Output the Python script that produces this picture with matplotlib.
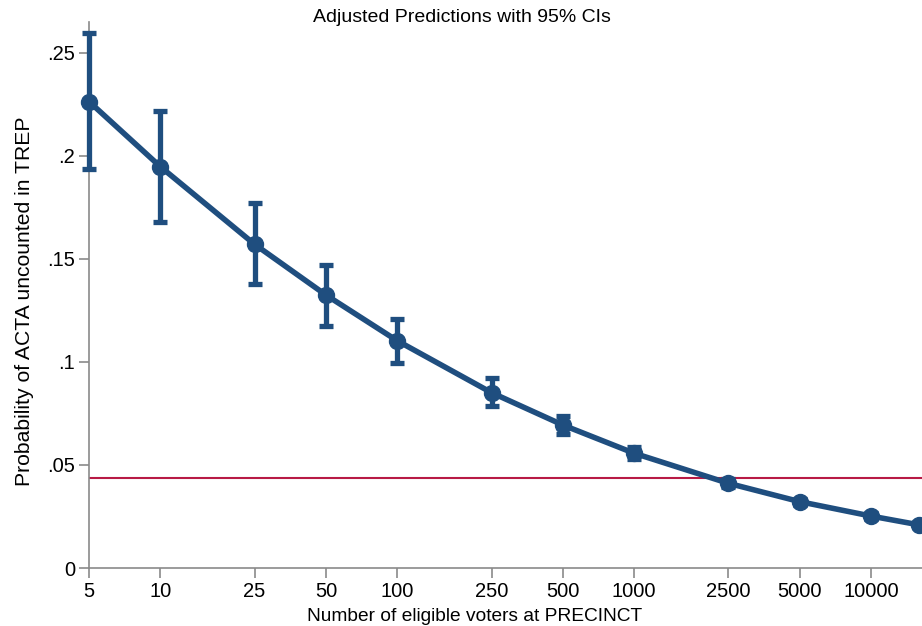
import matplotlib

matplotlib.use("Agg")

import matplotlib.pyplot as plt
from matplotlib.ticker import FixedLocator, FixedFormatter, NullLocator

# Margins of predicted probability by precinct size
voters = [5, 10, 25, 50, 100, 250, 500, 1000, 2500, 5000, 10000, 16000]
prob = [0.2264, 0.1948, 0.1571, 0.1325, 0.1103, 0.0851, 0.0694, 0.0557,
        0.0411, 0.0322, 0.0252, 0.0209]
ci_low = [0.1937, 0.1681, 0.1377, 0.1175, 0.0994, 0.0786, 0.0649, 0.0527,
          0.0391, 0.0307, 0.0239, 0.0197]
ci_high = [0.2596, 0.2218, 0.1770, 0.1471, 0.1209, 0.0921, 0.0739, 0.0587,
           0.0431, 0.0337, 0.0265, 0.0221]
baseline = 0.0438

x_ticks = [5, 10, 25, 50, 100, 250, 500, 1000, 2500, 5000, 10000]
y_ticks = [0, 0.05, 0.1, 0.15, 0.2, 0.25]
y_labels = ["0", ".05", ".1", ".15", ".2", ".25"]

navy = "#1f4e7f"
cranberry = "#b81a45"
axis_gray = "#8a8a8a"

plt.rcParams["font.family"] = ["Liberation Sans", "DejaVu Sans"]

fig = plt.figure(figsize=(9.22, 6.26), dpi=100)
ax = fig.add_axes([89 / 922, 1 - 568 / 626, 1 - 89 / 922, (568 - 22) / 626])

ax.axhline(baseline, color=cranberry, linewidth=1.5, zorder=1)

yerr = [[p - lo for p, lo in zip(prob, ci_low)],
        [hi - p for p, hi in zip(prob, ci_high)]]
ax.errorbar(voters, prob, yerr=yerr, color=navy, linewidth=4,
            elinewidth=3.8, capsize=5, capthick=3.8, marker="o",
            markersize=11.5, zorder=3, clip_on=False)

ax.set_xscale("log")
ax.set_xlim(5, 16400)
ax.set_ylim(0, 0.265)

ax.xaxis.set_major_locator(FixedLocator(x_ticks))
ax.xaxis.set_major_formatter(FixedFormatter([str(v) for v in x_ticks]))
ax.xaxis.set_minor_locator(NullLocator())
ax.yaxis.set_major_locator(FixedLocator(y_ticks))
ax.yaxis.set_major_formatter(FixedFormatter(y_labels))

for side in ("top", "right"):
    ax.spines[side].set_visible(False)
for side in ("left", "bottom"):
    ax.spines[side].set_color(axis_gray)
    ax.spines[side].set_linewidth(1.2)

ax.tick_params(axis="both", which="major", length=7, width=1.2,
               color=axis_gray, labelsize=14.5, pad=3)

ax.set_xlabel("Number of eligible voters at PRECINCT", fontsize=13.8,
              labelpad=5)
ax.xaxis.label.set_x((475 - 89) / 833)
ax.set_ylabel("Probability of ACTA uncounted in TREP", fontsize=15.2,
              labelpad=9.5)
ax.yaxis.label.set_y((568 - 301) / 546)
fig.text(462 / 922, 1 - 17 / 626, "Adjusted Predictions with 95% CIs",
         ha="center", va="center", fontsize=14)

fig.savefig("out.png", dpi=100)
